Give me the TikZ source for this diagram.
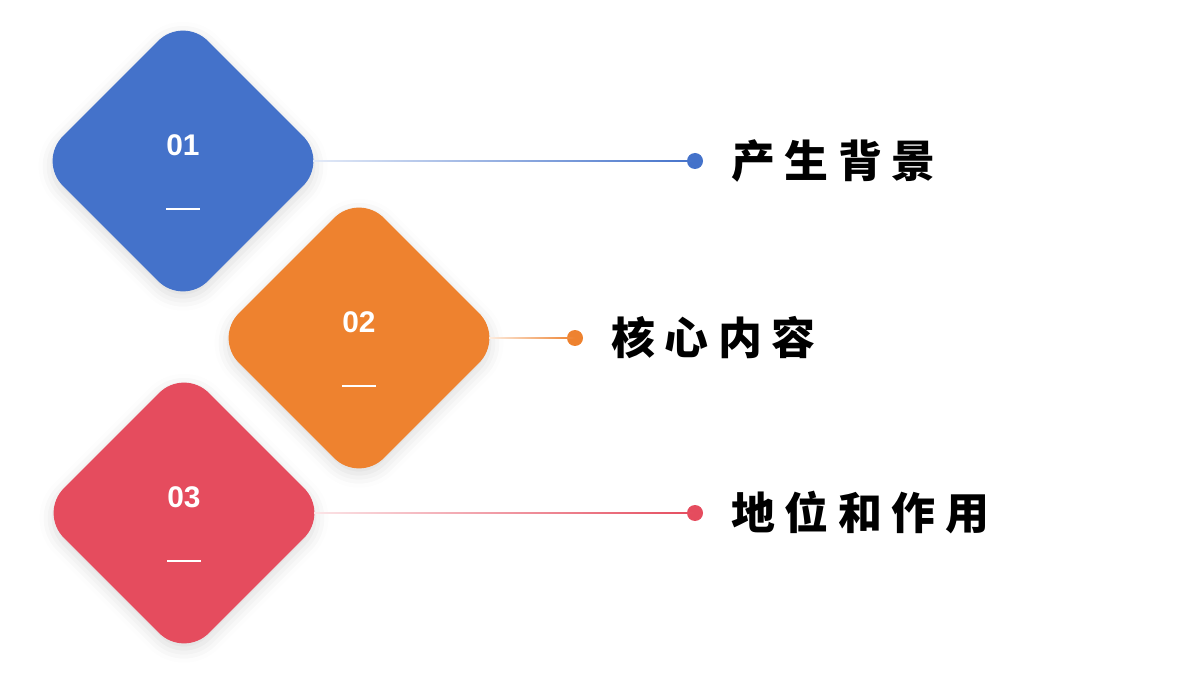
\documentclass[tikz,border=0pt]{standalone}
\usepackage{fontspec}
\setmainfont{Liberation Sans}
\newfontfamily\cjk[LetterSpace=22]{Noto Sans CJK SC}
\usetikzlibrary{shadows.blur}
\definecolor{cb}{HTML}{4472CA}
\definecolor{co}{HTML}{EE822F}
\definecolor{cr}{HTML}{E54C5E}
\begin{document}
\begin{tikzpicture}[x=0.02cm,y=-0.02cm,
  dia/.style={fill=#1,rounded corners=20pt,minimum size=4.1cm,inner sep=0pt,draw=none,
    rotate=45,blur shadow={shadow xshift=0pt,shadow yshift=-3pt,shadow blur radius=8pt,shadow opacity=15}},
  num/.style={text=white,font=\bfseries\fontsize{17}{20}\selectfont},
  lab/.style={anchor=west,font=\cjk\bfseries\fontsize{25}{30}\selectfont},
  dot/.style={circle,fill=#1,minimum size=0.32cm,inner sep=0pt}]
\useasboundingbox (0,0) rectangle (1200,675);
\foreach \n/\k/\x/\y/\c/\lx/\t in {a/1/183/161/cb/695/产生背景, b/2/359/338/co/575/核心内容, c/3/184/513/cr/695/地位和作用}{
  \node[dia=\c] (\n) at (\x,\y) {};
  \node[num] (\n n) at (\x,\y-16) {0\k};
  \coordinate (\n d1) at (\x-17,\y+48);
  \coordinate (\n d2) at (\x+17,\y+48);
  \draw[white,line width=1.6pt] (\n d1) -- (\n d2);
  \node[dot=\c] (\n p) at (\lx,\y) {};
  \shade[left color=\c!15,right color=\c] (\x+130,\y-0.7) rectangle (\lx,\y+0.7);
  \node[lab] (\n t) at (\lx+30,\y) {\t};
}
\end{tikzpicture}
\end{document}
